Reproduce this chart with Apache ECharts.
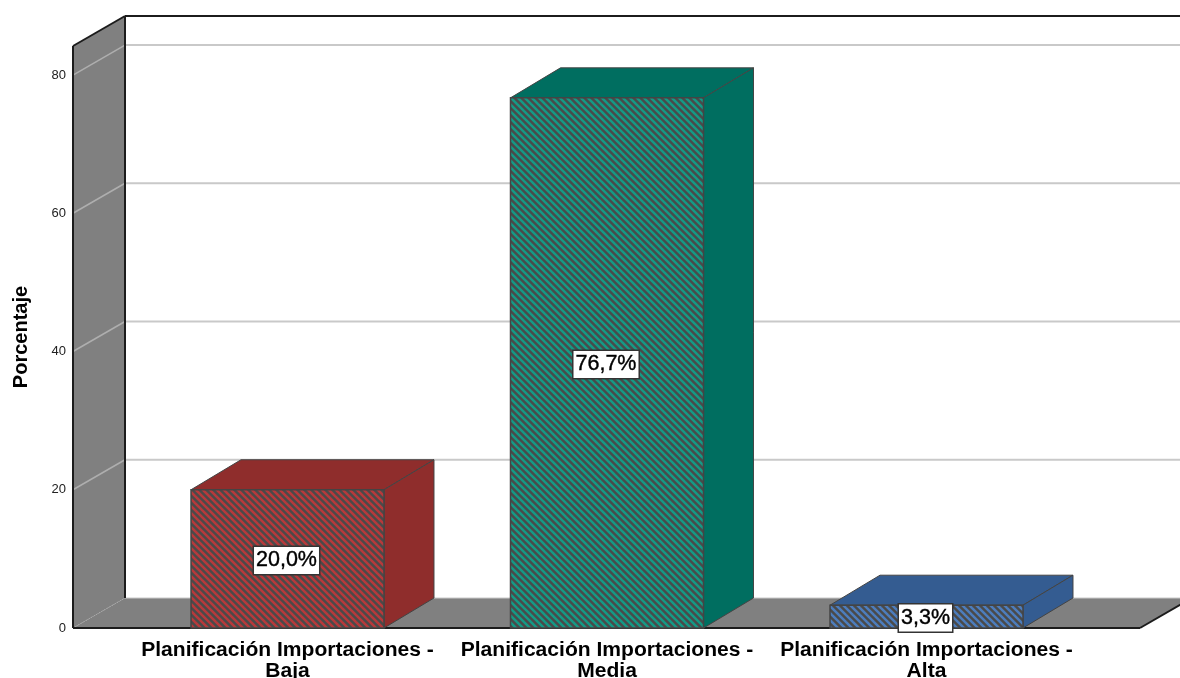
<!DOCTYPE html>
<html>
<head>
<meta charset="utf-8">
<style>html,body{margin:0;padding:0;background:#fff}#chart{width:1180px;height:678px}</style>
<script src="https://cdn.jsdelivr.net/npm/echarts@6/dist/echarts.min.js"></script>
</head>
<body>
<div id="chart"></div>
<script>
const categories = [
  'Planificación Importaciones -\nBaja',
  'Planificación Importaciones -\nMedia',
  'Planificación Importaciones -\nAlta'
];
const percentages = [20.0, 76.7, 3.3];
const gridValues = [20, 40, 60, 80];
const axisTop = 84.2;

const sideColors = ['#8f2d2c', '#006e60', '#345c91'];
const stripeColors = ['#b8393b', '#149a86', '#4d7dbd'];
const hatchDark = '#4a4a4a';
const edgeColor = '#444444';
const wallColor = '#808080';
const gridColor = '#c9c9c9';
const wallGridColor = '#aeaeae';
const frameColor = '#1c1c1c';
const fontFamily = '"Liberation Sans", Arial, sans-serif';

// Oblique projection of the room and of the boxes
const depthX = 52, depthY = -30, barDepthX = 50;
const wallLeftX = 73, floorRightX = 1140;

function hatch(color) {
  const size = 7;
  const c = document.createElement('canvas');
  c.width = c.height = size;
  const g = c.getContext('2d');
  g.fillStyle = hatchDark;
  g.fillRect(0, 0, size, size);
  g.strokeStyle = color;
  g.lineWidth = 2.5;
  for (const off of [-size, 0, size]) {
    g.beginPath();
    g.moveTo(off - 1, -1);
    g.lineTo(off + size + 1, size + 1);
    g.stroke();
  }
  return c;
}

function poly(points, fill, stroke, lineWidth, z2) {
  return {
    type: 'polygon',
    z2: z2 || 0,
    shape: { points },
    style: { fill: fill, stroke: stroke || null, lineWidth: lineWidth || 0, lineJoin: 'round' }
  };
}
function segment(x1, y1, x2, y2, stroke, lineWidth, z2, dash) {
  return {
    type: 'line',
    z2: z2 || 0,
    shape: { x1, y1, x2, y2 },
    style: { stroke, lineWidth, lineDash: dash || null, fill: null }
  };
}

// Back wall, side wall, floor and the gridlines that wrap around them
function renderRoom(params, api) {
  const y0 = api.coord([0, 0])[1];
  const yTop = api.coord([0, axisTop])[1];
  const backX = wallLeftX + depthX;
  const edge = 1180;
  const floorBackRight = floorRightX + depthX;
  const kids = [
    poly([[wallLeftX, yTop], [backX, yTop + depthY], [backX, y0 + depthY], [wallLeftX, y0]], wallColor),
    poly([[wallLeftX, y0], [floorRightX, y0], [floorBackRight, y0 + depthY], [backX, y0 + depthY]], wallColor)
  ];
  gridValues.forEach(v => {
    const y = api.coord([0, v])[1];
    kids.push(segment(wallLeftX, y, backX, y + depthY, wallGridColor, 1.5, 1));
    kids.push(segment(backX, y + depthY, edge, y + depthY, gridColor, 2, 1));
  });
  kids.push(segment(wallLeftX, y0, backX, y0 + depthY, wallGridColor, 1, 1, [1, 2]));
  kids.push(segment(backX, y0 + depthY, edge, y0 + depthY, gridColor, 1, 1));
  kids.push(segment(wallLeftX, yTop, wallLeftX, y0, frameColor, 2, 2));
  kids.push(segment(wallLeftX, yTop, backX, yTop + depthY, frameColor, 2, 2));
  kids.push(segment(backX, yTop + depthY, edge, yTop + depthY, frameColor, 2, 2));
  kids.push(segment(backX, yTop + depthY, backX, y0 + depthY, frameColor, 2, 2));
  kids.push(segment(wallLeftX, y0, floorRightX, y0, frameColor, 2, 2));
  kids.push(segment(floorRightX, y0, floorBackRight, y0 + depthY, frameColor, 2, 2));
  return { type: 'group', children: kids };
}

function renderBar(params, api) {
  const i = api.value(0);
  const v = api.value(1);
  const base = api.coord([i, 0]);
  const top = api.coord([i, v]);
  const w = api.size([1, 0])[0] * 0.604;
  const l = base[0] - w / 2, r = base[0] + w / 2;
  return {
    type: 'group',
    children: [
      poly([[l, top[1]], [l + barDepthX, top[1] + depthY], [r + barDepthX, top[1] + depthY], [r, top[1]]],
        sideColors[i], edgeColor, 1),
      poly([[r, top[1]], [r + barDepthX, top[1] + depthY], [r + barDepthX, base[1] + depthY], [r, base[1]]],
        sideColors[i], edgeColor, 1),
      {
        type: 'rect',
        shape: { x: l, y: top[1], width: w, height: base[1] - top[1] },
        style: { fill: { image: hatch(stripeColors[i]), repeat: 'repeat' }, stroke: edgeColor, lineWidth: 1.5 }
      },
      {
        type: 'text',
        z2: 10,
        x: base[0] - 1,
        y: (top[1] + base[1]) / 2 + 1.5,
        style: {
          text: v.toFixed(1).replace('.', ',') + '%',
          fill: '#000',
          stroke: '#000',
          lineWidth: 0.4,
          font: '21.5px ' + fontFamily,
          align: 'center',
          verticalAlign: 'middle',
          backgroundColor: '#fff',
          borderColor: '#333',
          borderWidth: 1.5,
          padding: [3, 2, 2, 2]
        }
      },
      // Category caption, widened slightly along x
      {
        type: 'text',
        z2: 10,
        x: base[0],
        y: base[1] + 12,
        scaleX: 1.08,
        style: {
          text: categories[i],
          fill: '#000',
          font: 'bold 19.5px ' + fontFamily,
          lineHeight: 21,
          align: 'center',
          verticalAlign: 'top'
        }
      }
    ]
  };
}

const chart = echarts.init(document.getElementById('chart'), null, { renderer: 'canvas' });
chart.setOption({
  animation: false,
  backgroundColor: '#fff',
  grid: { left: 127.75, width: 958.5, top: 46, height: 582, outerBoundsMode: 'none' },
  xAxis: {
    type: 'category',
    data: categories,
    axisLine: { show: false },
    axisTick: { show: false },
    axisLabel: { show: false }
  },
  yAxis: {
    type: 'value',
    min: 0,
    max: axisTop,
    interval: 20,
    offset: 54.75,
    name: 'Porcentaje',
    nameLocation: 'middle',
    nameGap: 42,
    nameTextStyle: {
      color: '#000',
      fontFamily,
      fontSize: 20,
      fontWeight: 'bold'
    },
    axisLine: { show: false },
    axisTick: { show: false },
    splitLine: { show: false },
    axisLabel: {
      showMaxLabel: false,
      margin: 7,
      color: '#222',
      fontFamily,
      fontSize: 13,
      padding: [3, 0, 0, 0]
    }
  },
  series: [
    { type: 'custom', silent: true, z: 1, renderItem: renderRoom, data: [[0, 0]], encode: { x: 0, y: 1 } },
    {
      type: 'custom',
      silent: true,
      z: 2,
      renderItem: renderBar,
      data: percentages.map((v, i) => [i, v]),
      encode: { x: 0, y: 1 }
    }
  ]
});
</script>
</body>
</html>
